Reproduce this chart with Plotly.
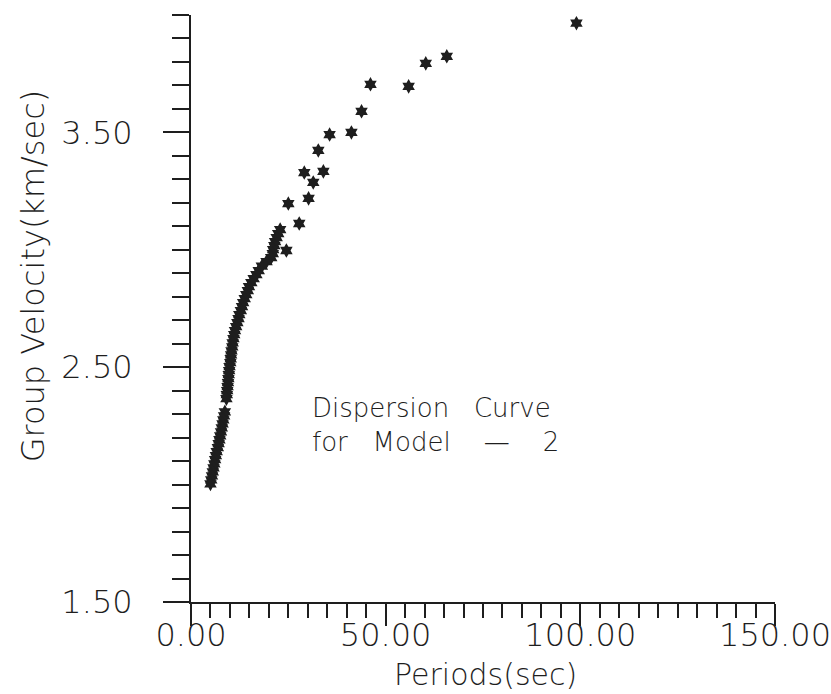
import plotly.graph_objects as go

# Group velocity dispersion curve, Model 2
# Densely sampled short-period branch
period_dense = [
    22.9, 22.4, 22.0, 21.6, 21.4, 21.1, 21.0, 20.6, 19.4, 18.2,
    17.4, 16.8, 16.1, 15.5, 14.9, 14.6, 14.2, 13.8, 13.4,
    13.1, 12.8, 12.4, 12.2, 11.9, 11.6, 11.3, 11.1, 10.9, 10.7,
    10.6, 10.4, 10.3, 10.2, 10.1, 9.9, 9.8, 9.7, 9.6, 9.5,
    9.4, 9.3, 9.2, 9.1, 8.7, 8.5, 8.3, 8.1, 7.9, 7.7,
    7.5, 7.3, 7.1, 6.9, 6.6, 6.4, 6.2, 6.0, 5.8, 5.6,
    5.4, 5.2, 5.0,
]
velocity_dense = [
    3.086, 3.069, 3.052, 3.035, 3.018, 3.001, 2.984, 2.967, 2.950, 2.930,
    2.911, 2.894, 2.877, 2.860, 2.843, 2.826, 2.809, 2.792, 2.775,
    2.758, 2.741, 2.724, 2.707, 2.690, 2.673, 2.656, 2.639, 2.622, 2.604,
    2.587, 2.570, 2.553, 2.536, 2.519, 2.502, 2.485, 2.468, 2.451, 2.434,
    2.417, 2.400, 2.383, 2.366, 2.310, 2.293, 2.276, 2.259, 2.242, 2.225,
    2.208, 2.191, 2.174, 2.157, 2.140, 2.123, 2.106, 2.088, 2.071, 2.054,
    2.037, 2.020, 2.003,
]

# Sparse long-period estimates
period_sparse = [24.5, 25.0, 27.8, 30.2, 31.4, 29.1, 34.0, 32.7, 35.6, 41.2,
                 43.8, 46.1, 55.9, 60.3, 65.7, 99.0]
velocity_sparse = [2.997, 3.197, 3.112, 3.219, 3.287, 3.329, 3.334, 3.423, 3.491, 3.500,
                   3.590, 3.705, 3.696, 3.794, 3.824, 3.965]

x_ticks = [0, 50, 100, 150]
x_ticktext = ["0.00", "50.00", "100.00", "150.00"]
y_ticks = [1.5, 2.5, 3.5]
y_ticktext = ["1.50", "2.50", "3.50"]

INK = "#1e1e1e"
FONT = "DejaVu Sans"
LIGHT = 200
NB = "\u00a0"

marker = dict(symbol="hexagram", size=11, color=INK, line=dict(width=0))

fig = go.Figure()
fig.add_trace(go.Scatter(x=period_dense, y=velocity_dense, mode="markers",
                         marker=marker, showlegend=False))
fig.add_trace(go.Scatter(x=period_sparse, y=velocity_sparse, mode="markers",
                         marker=marker, showlegend=False))

fig.update_xaxes(
    range=[0, 150], showgrid=False, zeroline=False, automargin=False,
    showline=True, linewidth=2, linecolor=INK,
    tickmode="array", tickvals=x_ticks, ticktext=x_ticktext,
    ticks="outside", ticklen=22, tickwidth=2, tickcolor=INK,
    tickfont=dict(family=FONT, size=32, color=INK, weight=LIGHT),
    ticklabelstandoff=-18,
    minor=dict(ticks="outside", tick0=0, dtick=5, ticklen=14,
               tickwidth=1.5, tickcolor=INK, showgrid=False),
)
fig.update_yaxes(
    range=[1.5, 4.0], showgrid=False, zeroline=False, automargin=False,
    showline=True, linewidth=2, linecolor=INK,
    tickmode="array", tickvals=y_ticks, ticktext=y_ticktext,
    ticks="outside", ticklen=26, tickwidth=2, tickcolor=INK,
    tickfont=dict(family=FONT, size=32, color=INK, weight=LIGHT),
    ticklabelstandoff=24,
    minor=dict(ticks="outside", tick0=1.5, dtick=0.1, ticklen=17,
               tickwidth=1.5, tickcolor=INK, showgrid=False),
)

caption = ("Dispersion" + NB * 2 + " Curve<br>"
           "for" + NB * 2 + " Model" + NB * 3 + " \u2014" + NB * 3 + " 2")

fig.update_layout(
    width=831, height=694,
    margin=dict(l=191, r=56, t=15, b=92),
    paper_bgcolor="white", plot_bgcolor="white",
    font=dict(family=FONT, color=INK),
    annotations=[
        dict(text="Group Velocity(km/sec)", textangle=-90,
             xref="paper", yref="paper", x=-0.2705, y=0.555,
             xanchor="center", yanchor="middle", showarrow=False,
             font=dict(family=FONT, size=32, color=INK, weight=LIGHT)),
        dict(text="Periods(sec)",
             xref="paper", yref="paper", x=0.505, y=-0.124,
             xanchor="center", yanchor="middle", showarrow=False,
             font=dict(family=FONT, size=30, color=INK, weight=LIGHT)),
        dict(text=caption, align="left",
             xref="paper", yref="paper", x=0.2038, y=(602 - 425) / 587,
             xanchor="left", yanchor="middle", showarrow=False,
             font=dict(family=FONT, size=26, color=INK, weight=LIGHT)),
    ],
)

fig.write_html("out.html")
